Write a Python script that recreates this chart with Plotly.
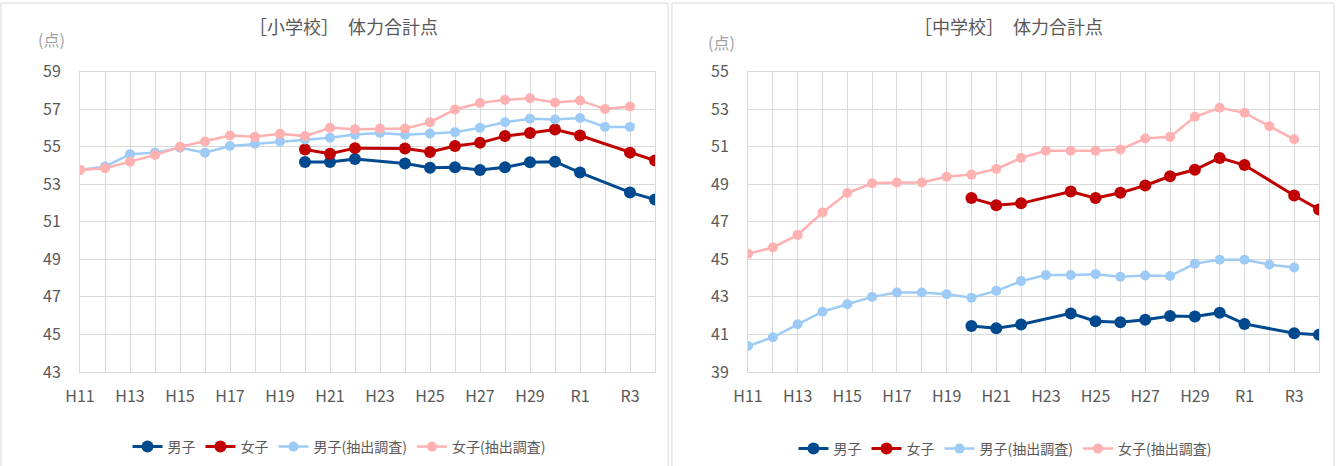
import plotly.graph_objects as go

# ---------------- data ----------------
categories = ["H11", "H12", "H13", "H14", "H15", "H16", "H17", "H18", "H19", "H20",
              "H21", "H22", "H23", "H24", "H25", "H26", "H27", "H28", "H29", "H30",
              "R1", "R2", "R3", "R4"]
tick_labels = [c if i % 2 == 0 else "" for i, c in enumerate(categories)]

series_names = ["男子", "女子", "男子(抽出調査)", "女子(抽出調査)"]

# 小学校
elem_boys = [None, None, None, None, None, None, None, None, None, 54.18,
             54.18, 54.34, None, 54.10, 53.87, 53.90, 53.76, 53.90, 54.17, 54.20,
             53.62, None, 52.56, 52.18]
elem_girls = [None, None, None, None, None, None, None, None, None, 54.85,
              54.62, 54.92, None, 54.90, 54.71, 55.03, 55.20, 55.56, 55.73, 55.91,
              55.59, None, 54.68, 54.26]
elem_boys_s = [53.76, 53.94, 54.59, 54.68, 54.94, 54.68, 55.03, 55.15, 55.27, 55.38,
               55.47, 55.64, 55.73, 55.63, 55.70, 55.77, 56.00, 56.30, 56.49, 56.44,
               56.52, 56.05, 56.05, None]
elem_girls_s = [53.76, 53.85, 54.20, 54.55, 54.99, 55.27, 55.59, 55.52, 55.68, 55.56,
                56.00, 55.93, 55.96, 55.96, 56.30, 56.98, 57.32, 57.49, 57.58, 57.35,
                57.46, 57.00, 57.14, None]

# 中学校
mid_boys = [None, None, None, None, None, None, None, None, None, 41.45,
            41.33, 41.53, None, 42.12, 41.70, 41.65, 41.78, 41.98, 41.96, 42.16,
            41.56, None, 41.06, 40.98]
mid_girls = [None, None, None, None, None, None, None, None, None, 48.26,
             47.88, 47.98, None, 48.61, 48.26, 48.54, 48.93, 49.42, 49.77, 50.40,
             50.02, None, 48.40, 47.65]
mid_boys_s = [40.38, 40.85, 41.54, 42.21, 42.61, 43.00, 43.23, 43.23, 43.14, 42.96,
              43.32, 43.84, 44.16, 44.16, 44.21, 44.07, 44.14, 44.11, 44.77, 44.98,
              44.98, 44.72, 44.56, None]
mid_girls_s = [45.30, 45.63, 46.30, 47.49, 48.53, 49.05, 49.09, 49.09, 49.40, 49.51,
               49.81, 50.40, 50.78, 50.78, 50.78, 50.85, 51.43, 51.52, 52.59, 53.07,
               52.80, 52.09, 51.39, None]

elem_yticks = [43, 45, 47, 49, 51, 53, 55, 57, 59]
mid_yticks = [39, 41, 43, 45, 47, 49, 51, 53, 55]

titles = ["［小学校］　体力合計点", "［中学校］　体力合計点"]
unit_label = "(点)"

# ---------------- styling ----------------
W, H = 1341, 466
FONT = "Noto Sans CJK JP, Noto Sans, sans-serif"
TXT = "#595959"
GRID = "#D9D9D9"
colors = ["#00498F", "#C00000", "#9DCBF5", "#FFB0B0"]
msizes = [12, 12, 10, 10]
lwidths = [3, 3, 2.5, 2.5]

xidx = list(range(len(categories)))

fig = go.Figure()

panels = [
    dict(data=[elem_boys, elem_girls, elem_boys_s, elem_girls_s], xa="x", ya="y", legend="legend"),
    dict(data=[mid_boys, mid_girls, mid_boys_s, mid_girls_s], xa="x2", ya="y2", legend="legend2"),
]
for p in panels:
    for name, ys, c, ms, lw in zip(series_names, p["data"], colors, msizes, lwidths):
        fig.add_trace(go.Scatter(
            x=xidx, y=ys, name=name, mode="lines+markers",
            connectgaps=True,
            line=dict(color=c, width=lw),
            marker=dict(color=c, size=ms, symbol="circle"),
            xaxis=p["xa"], yaxis=p["ya"], legend=p["legend"],
        ))

ydom = [1 - 372 / H, 1 - 71.5 / H]
xdom1 = [80 / W, 655 / W]
xdom2 = [748 / W, 1319 / W]

xcommon = dict(
    range=[0, len(categories) - 1], tickmode="array", tickvals=xidx, ticktext=tick_labels,
    showgrid=True, gridcolor=GRID, gridwidth=1, zeroline=False,
    showline=True, linecolor=GRID, linewidth=1, mirror=True,
    ticks="outside", ticklen=10, tickcolor="rgba(0,0,0,0)", automargin=False,
    tickfont=dict(family=FONT, size=16, color=TXT),
)
ycommon = dict(
    showgrid=True, gridcolor=GRID, gridwidth=1, zeroline=False,
    showline=True, linecolor=GRID, linewidth=1, mirror=True,
    ticks="outside", ticklen=15, tickcolor="rgba(0,0,0,0)", automargin=False,
    tickfont=dict(family=FONT, size=16, color=TXT),
)

fig.update_layout(
    width=W, height=H, autosize=False,
    margin=dict(l=0, r=0, t=0, b=0, pad=0, autoexpand=False),
    paper_bgcolor="white", plot_bgcolor="white",
    font=dict(family=FONT, color=TXT),
    xaxis=dict(domain=xdom1, anchor="y", **xcommon),
    yaxis=dict(domain=ydom, anchor="x", range=[43, 59], tickvals=elem_yticks, **ycommon),
    xaxis2=dict(domain=xdom2, anchor="y2", **xcommon),
    yaxis2=dict(domain=ydom, anchor="x2", range=[39, 55], tickvals=mid_yticks, **ycommon),
    legend=dict(orientation="h", x=339 / W, xanchor="center", y=1 - 447 / H, yanchor="middle",
                font=dict(family=FONT, size=14, color=TXT), bgcolor="rgba(0,0,0,0)",
                itemwidth=30, tracegroupgap=0),
    legend2=dict(orientation="h", x=1005 / W, xanchor="center", y=1 - 449 / H, yanchor="middle",
                 font=dict(family=FONT, size=14, color=TXT), bgcolor="rgba(0,0,0,0)",
                 itemwidth=30, tracegroupgap=0),
    showlegend=True,
)

# titles and unit labels
ann = dict(xref="paper", yref="paper", showarrow=False, xanchor="center", yanchor="middle")
fig.add_annotation(text=titles[0], x=343 / W, y=1 - 26 / H,
                   font=dict(family=FONT, size=18, color=TXT), **ann)
fig.add_annotation(text=titles[1], x=1008 / W, y=1 - 26 / H,
                   font=dict(family=FONT, size=18, color=TXT), **ann)
fig.add_annotation(text=unit_label, x=51 / W, y=1 - 39 / H,
                   font=dict(family=FONT, size=16, color="#A0A0A0"), **ann)
fig.add_annotation(text=unit_label, x=722 / W, y=1 - 42 / H,
                   font=dict(family=FONT, size=16, color="#A0A0A0"), **ann)

# panel borders
fig.add_shape(type="rect", xref="paper", yref="paper",
              x0=1 / W, x1=668 / W, y0=-0.05, y1=1 - 3 / H,
              line=dict(color=GRID, width=1), fillcolor="rgba(0,0,0,0)", layer="below")
fig.add_shape(type="rect", xref="paper", yref="paper",
              x0=672 / W, x1=1334 / W, y0=-0.05, y1=1 - 3 / H,
              line=dict(color=GRID, width=1), fillcolor="rgba(0,0,0,0)", layer="below")

fig.write_html("out.html",
               config={"displayModeBar": False},
               post_script="document.body.style.margin='0';document.body.style.overflow='hidden';")
